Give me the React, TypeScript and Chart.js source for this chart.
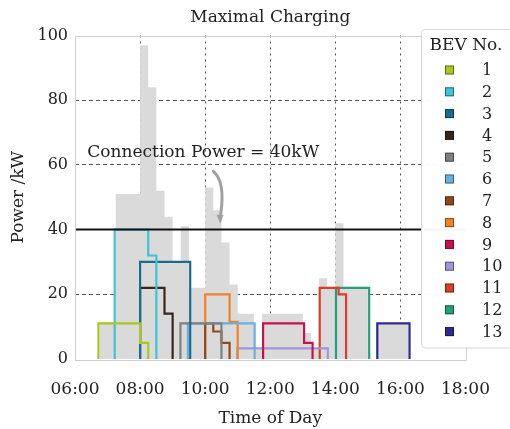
import React, { useEffect, useRef } from 'react';
import { Chart, registerables } from 'chart.js';

Chart.register(...registerables);

const FONT = "'DejaVu Serif', 'Liberation Serif', serif";

const TITLE = 'Maximal Charging';
const X_TITLE = 'Time of Day';
const Y_TITLE = 'Power /kW';
const LEGEND_TITLE = 'BEV No.';
const X_MIN = 6;
const X_MAX = 18;
const X_STEP = 2;
const Y_MIN = 0;
const Y_MAX = 100;
const Y_STEP = 20;

const CONNECTION_POWER = 40;
const CONNECTION_LABEL = 'Connection Power = 40kW';

// Each BEV: times (hours) at which its charging power changes, and the power (kW) held from that time on.
const bev1Times = [6.72, 8.0, 8.25];
const bev1Power = [11, 5, 0];
const bev2Times = [7.22, 8.25, 8.5];
const bev2Power = [40, 32, 0];
const bev3Times = [8.0, 9.54];
const bev3Power = [30, 0];
const bev4Times = [8.0, 8.75, 9.0];
const bev4Power = [22, 14, 0];
const bev5Times = [9.24, 10.5];
const bev5Power = [11, 0];
const bev6Times = [9.47, 11.52];
const bev6Power = [11, 0];
const bev7Times = [10.0, 10.25, 10.5, 10.75];
const bev7Power = [11, 8.5, 5, 0];
const bev8Times = [10.0, 10.75, 11.0];
const bev8Power = [20, 11.5, 0];
const bev9Times = [11.78, 13.04, 13.3];
const bev9Power = [11, 5, 0];
const bev10Times = [10.99, 13.77];
const bev10Power = [3.3, 0];
const bev11Times = [13.52, 14.1, 14.33];
const bev11Power = [22, 20, 0];
const bev12Times = [14.02, 15.04];
const bev12Power = [22, 0];
const bev13Times = [15.29, 16.28];
const bev13Power = [11, 0];

const bevNames = ['1', '2', '3', '4', '5', '6', '7', '8', '9', '10', '11', '12', '13'];
const bevColors = [
  '#a8c81e', '#3ec3d6', '#186c93', '#3a2519', '#808080', '#6ab0de', '#8c4a1a',
  '#f28223', '#c8104f', '#9f98d8', '#e03b24', '#22a07a', '#2f2a93',
];
const bevTimes = [bev1Times, bev2Times, bev3Times, bev4Times, bev5Times, bev6Times, bev7Times, bev8Times, bev9Times, bev10Times, bev11Times, bev12Times, bev13Times];
const bevPower = [bev1Power, bev2Power, bev3Power, bev4Power, bev5Power, bev6Power, bev7Power, bev8Power, bev9Power, bev10Power, bev11Power, bev12Power, bev13Power];

// Aggregate load of all BEVs in 15-minute bins (kW), first bin starting at AGG_START.
const AGG_START = 6.75;
const AGG_BIN = 0.25;
const aggValues = [
  11, 11, 51, 51, 51, 97, 84, 52, 44, 30, 41, 22, 22, 53, 46, 36, 23, 14, 14, 3,
  14, 14, 14, 14, 14, 8, 3, 25, 22, 42, 22, 22, 22, 0, 11, 11, 11, 11,
];

function stepPoints(times: number[], power: number[]) {
  const pts = [{ x: times[0], y: 0 }];
  times.forEach((t, i) => pts.push({ x: t, y: power[i] }));
  return pts;
}

function aggPoints() {
  const pts = [{ x: AGG_START, y: 0 }];
  aggValues.forEach((v, i) => pts.push({ x: AGG_START + i * AGG_BIN, y: v }));
  pts.push({ x: AGG_START + aggValues.length * AGG_BIN, y: 0 });
  return pts;
}

function fmtHour(v: number) {
  return (v < 10 ? '0' : '') + v + ':00';
}

const annotationPlugin = {
  id: 'connAnnotation',
  afterDatasetsDraw(chart: any) {
    const { ctx, scales } = chart;
    const xs = scales.x;
    const ys = scales.y;
    ctx.save();
    ctx.font = `17px ${FONT}`;
    ctx.fillStyle = '#222';
    ctx.textAlign = 'left';
    ctx.textBaseline = 'middle';
    ctx.fillText(CONNECTION_LABEL, xs.getPixelForValue(6.38), ys.getPixelForValue(63.7));
    // curved arrow
    const x0 = xs.getPixelForValue(10.25), y0 = ys.getPixelForValue(58);
    const cx = xs.getPixelForValue(10.62), cy = ys.getPixelForValue(55);
    const x1 = xs.getPixelForValue(10.48), y1 = ys.getPixelForValue(45);
    ctx.strokeStyle = '#a0a0a0';
    ctx.lineWidth = 3;
    ctx.lineCap = 'round';
    ctx.beginPath();
    ctx.moveTo(x0, y0);
    ctx.quadraticCurveTo(cx, cy, x1, y1);
    ctx.stroke();
    const tipX = xs.getPixelForValue(10.46), tipY = ys.getPixelForValue(41.8);
    ctx.fillStyle = '#a0a0a0';
    ctx.beginPath();
    ctx.moveTo(tipX, tipY);
    ctx.lineTo(tipX - 3.5, tipY - 9);
    ctx.lineTo(tipX + 3.5, tipY - 9);
    ctx.closePath();
    ctx.fill();
    ctx.restore();
  },
};

const frameLegendPlugin = {
  id: 'frameLegend',
  afterDraw(chart: any) {
    const { ctx, chartArea } = chart;
    ctx.save();
    ctx.strokeStyle = '#cfcfcf';
    ctx.lineWidth = 1;
    ctx.strokeRect(Math.round(chartArea.left) + 0.5, Math.round(chartArea.top) + 0.5,
      Math.round(chartArea.right - chartArea.left), Math.round(chartArea.bottom - chartArea.top));

    // legend box
    const lx = 421.5, ly = 29.5, lw = 100, lh = 318.5, r = 4;
    ctx.beginPath();
    ctx.moveTo(lx + r, ly);
    ctx.lineTo(lx + lw - r, ly);
    ctx.quadraticCurveTo(lx + lw, ly, lx + lw, ly + r);
    ctx.lineTo(lx + lw, ly + lh - r);
    ctx.quadraticCurveTo(lx + lw, ly + lh, lx + lw - r, ly + lh);
    ctx.lineTo(lx + r, ly + lh);
    ctx.quadraticCurveTo(lx, ly + lh, lx, ly + lh - r);
    ctx.lineTo(lx, ly + r);
    ctx.quadraticCurveTo(lx, ly, lx + r, ly);
    ctx.closePath();
    ctx.fillStyle = 'rgba(255,255,255,0.96)';
    ctx.fill();
    ctx.strokeStyle = '#d6d6d6';
    ctx.stroke();

    ctx.fillStyle = '#222';
    ctx.font = `17px ${FONT}`;
    ctx.textAlign = 'center';
    ctx.textBaseline = 'middle';
    ctx.fillText(LEGEND_TITLE, 466, 46);

    ctx.textAlign = 'left';
    ctx.font = `16px ${FONT}`;
    bevNames.forEach((name, i) => {
      const y = 70 + i * 21.8;
      ctx.fillStyle = bevColors[i];
      ctx.fillRect(445, y - 4.5, 9, 9);
      ctx.strokeStyle = 'rgba(0,0,0,0.45)';
      ctx.lineWidth = 1;
      ctx.strokeRect(445.5, y - 4, 8, 8);
      ctx.fillStyle = '#222';
      ctx.fillText(name, 482, y + 1);
    });
    ctx.restore();
  },
};

export default function App() {
  const canvasRef = useRef<HTMLCanvasElement | null>(null);

  useEffect(() => {
    if (!canvasRef.current) return;
    Chart.defaults.font.family = FONT;

    const bevDatasets = bevNames.map((name, i) => ({
      label: name,
      data: stepPoints(bevTimes[i], bevPower[i]),
      borderColor: bevColors[i],
      backgroundColor: bevColors[i],
      borderWidth: 2.2,
      pointRadius: 0,
      stepped: true as const,
      fill: false,
      order: i + 1,
    }));

    const chart = new Chart(canvasRef.current, {
      type: 'line',
      data: {
        datasets: [
          {
            label: 'Connection Power',
            data: [{ x: X_MIN, y: CONNECTION_POWER }, { x: X_MAX, y: CONNECTION_POWER }],
            borderColor: '#111',
            borderWidth: 2,
            pointRadius: 0,
            fill: false,
            order: 0,
          },
          ...bevDatasets,
          {
            label: 'Aggregate',
            data: aggPoints(),
            borderWidth: 0,
            borderColor: 'rgba(0,0,0,0)',
            backgroundColor: '#dadada',
            pointRadius: 0,
            stepped: true,
            fill: 'origin',
            order: 100,
          },
        ],
      },
      options: {
        animation: false,
        responsive: false,
        maintainAspectRatio: false,
        layout: { padding: { left: 0, right: 31, top: 0, bottom: 0 } },
        plugins: {
          legend: { display: false },
          tooltip: { enabled: false },
          title: {
            display: true,
            text: TITLE,
            fullSize: false,
            color: '#222',
            font: { size: 17, weight: 'normal', family: FONT },
            padding: { top: 7.8, bottom: 7.3 },
          },
        },
        scales: {
          x: {
            type: 'linear',
            min: X_MIN,
            max: X_MAX,
            z: 1,
            afterFit: (s: any) => { s.height = 70; },
            ticks: {
              stepSize: X_STEP,
              color: '#222',
              font: { size: 17, family: FONT },
              padding: 20,
              maxRotation: 0,
              callback: (v: any) => fmtHour(Number(v)),
            },
            grid: {
              drawTicks: false,
              lineWidth: 1,
              color: (c: any) => (c.tick && (c.tick.value === X_MIN || c.tick.value === X_MAX) ? 'rgba(0,0,0,0)' : '#555'),
            },
            border: { display: false, dash: [2, 4] },
            title: {
              display: true,
              text: X_TITLE,
              color: '#222',
              font: { size: 17, family: FONT },
              padding: { top: 0, bottom: 0 },
            },
          },
          y: {
            type: 'linear',
            min: Y_MIN,
            max: Y_MAX,
            z: 1,
            afterFit: (s: any) => { s.width = 75; },
            ticks: {
              stepSize: Y_STEP,
              color: '#222',
              font: { size: 16, family: FONT },
              padding: 7,
            },
            grid: {
              drawTicks: false,
              lineWidth: 1,
              color: (c: any) => (c.tick && (c.tick.value === Y_MIN || c.tick.value === Y_MAX) ? 'rgba(0,0,0,0)' : '#555'),
            },
            border: { display: false, dash: [4, 3] },
            title: {
              display: true,
              text: Y_TITLE,
              color: '#222',
              font: { size: 17, family: FONT },
              padding: { top: 8, bottom: 0 },
            },
          },
        },
      },
      plugins: [annotationPlugin, frameLegendPlugin],
    } as any);

    return () => chart.destroy();
  }, []);

  return (
    <div style={{ position: 'fixed', left: 0, top: 0, width: 510, height: 429, background: '#fff' }}>
      <canvas ref={canvasRef} width={510} height={429} />
    </div>
  );
}
